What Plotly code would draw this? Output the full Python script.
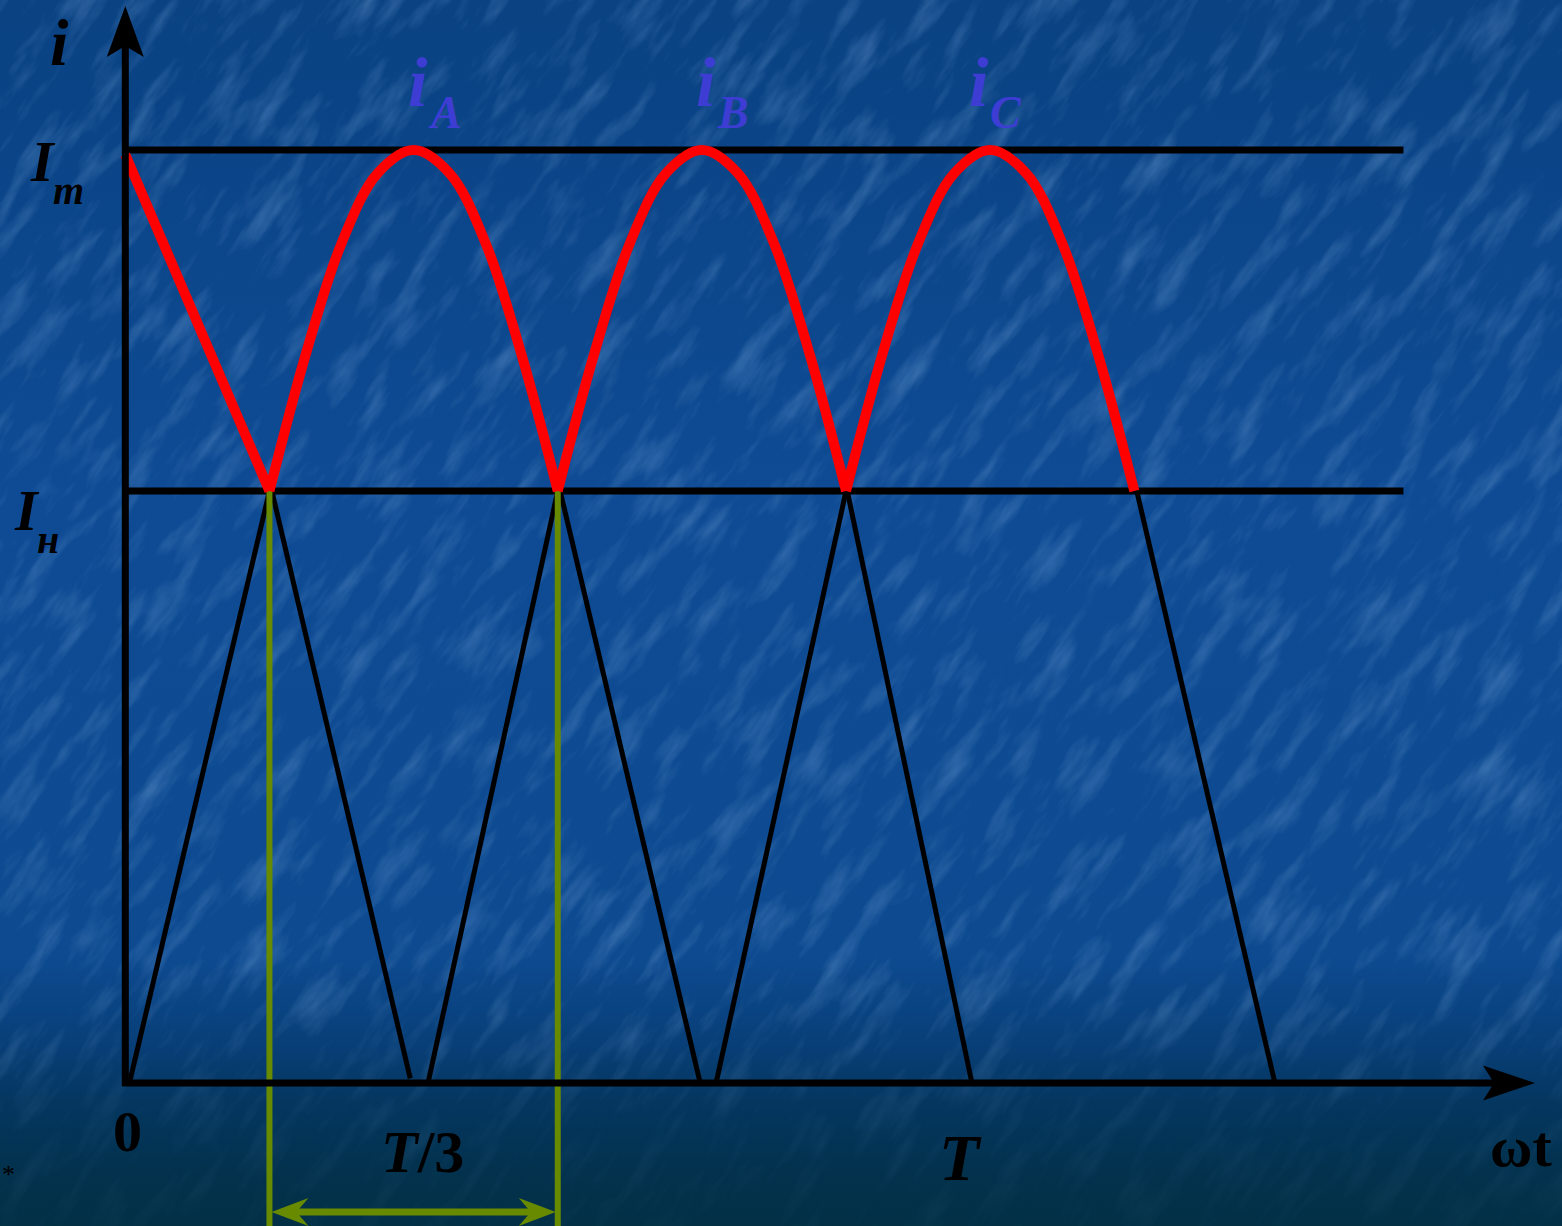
import base64
import plotly.graph_objects as go

# ---------------- data (ωt in electrical degrees, current in units of Im) ----------------
T_DEG = 360                 # period T
IM = 1.0                    # I_m level
IN = 0.6345                 # I_н level
LEVEL_END = 532             # where the two level lines stop

# red resulting current: first straight falling part, then the three phase tops
red_start_x = [0, 60]
red_start_y = [0.995, 0.6345]
arc_a_x = [60, 75, 90, 105, 120, 135, 150, 165, 180]
arc_a_y = [0.6345, 0.78, 0.90, 0.975, 1.0, 0.975, 0.90, 0.78, 0.6345]
arc_b_x = [180, 195, 210, 225, 240, 255, 270, 285, 300]
arc_b_y = [0.6345, 0.78, 0.90, 0.975, 1.0, 0.975, 0.90, 0.78, 0.6345]
arc_c_x = [300, 315, 330, 345, 360, 375, 390, 405, 420]
arc_c_y = [0.6345, 0.78, 0.90, 0.975, 1.0, 0.975, 0.90, 0.78, 0.6345]

# black phase-current flanks below I_н
black_x = [2, 60, None, 61, 118.6, None, 126, 180, None, 181, 239.2, None,
           245.9, 300, None, 300.5, 352.4, None, 421, 478.5]
black_y = [0.003, 0.6345, None, 0.6345, 0.005, None, 0, 0.6345, None, 0.6345, 0.001, None,
           0, 0.6345, None, 0.6345, 0, None, 0.6345, 0]

# commutation interval T/3 marked in green
green_x = [60, 180]

labels_phase = ["A", "B", "C"]
phase_peaks = [120, 240, 360]

# ---------------- layout constants (pixels) ----------------
W, H = 1562, 1226
X0_PX, PX_PER_DEG = 125.3, 2.4025
Y0_PX, PX_PER_UNIT = 1083.0, 933.0


def to_x(px):
    return (px - X0_PX) / PX_PER_DEG


def to_y(py):
    return (Y0_PX - py) / PX_PER_UNIT


def dx(px):
    return px / PX_PER_DEG


def dy(px):
    return px / PX_PER_UNIT


x_range = [to_x(0), to_x(W)]
y_range = [to_y(H), to_y(0)]

X_TIP = to_x(1535)
Y_TIP = to_y(6)
ARROW_Y = to_y(1212)


def arrow_path(tx, ty, direction, L, Hw, N):
    if direction == "right":
        pts = [(tx, ty), (tx - dx(L), ty + dy(Hw)), (tx - dx(L - N), ty), (tx - dx(L), ty - dy(Hw))]
    elif direction == "left":
        pts = [(tx, ty), (tx + dx(L), ty + dy(Hw)), (tx + dx(L - N), ty), (tx + dx(L), ty - dy(Hw))]
    else:  # up
        pts = [(tx, ty), (tx + dx(Hw), ty - dy(L)), (tx, ty - dy(L - N)), (tx - dx(Hw), ty - dy(L))]
    return "M " + " L ".join(f"{x:.4f},{y:.5f}" for x, y in pts) + " Z"


# ---------------- background (gradient + streaky texture) ----------------
svg = f"""<svg xmlns='http://www.w3.org/2000/svg' width='{W}' height='{H}' viewBox='0 0 {W} {H}'>
<defs>
<linearGradient id='g' x1='0' y1='0' x2='0' y2='1'>
<stop offset='0' stop-color='#0a4282'/>
<stop offset='0.4' stop-color='#0e4b94'/>
<stop offset='0.78' stop-color='#0d4a90'/>
<stop offset='0.85' stop-color='#083f78'/>
<stop offset='0.9' stop-color='#04365f'/>
<stop offset='0.95' stop-color='#03324f'/>
<stop offset='1' stop-color='#033045'/>
</linearGradient>
<linearGradient id='fade' x1='0' y1='0' x2='0' y2='1'>
<stop offset='0' stop-color='white' stop-opacity='1'/>
<stop offset='0.8' stop-color='white' stop-opacity='1'/>
<stop offset='0.92' stop-color='white' stop-opacity='0.3'/>
<stop offset='1' stop-color='white' stop-opacity='0.15'/>
</linearGradient>
<mask id='m'><rect width='{W}' height='{H}' fill='url(#fade)'/></mask>
<filter id='t' x='0' y='0' width='100%' height='100%'>
<feTurbulence type='fractalNoise' baseFrequency='0.05 0.013' numOctaves='4' seed='7'/>
<feColorMatrix values='0 0 0 0 0.28  0 0 0 0 0.50  0 0 0 0 0.82  0 0 0 2.0 -0.95'/>
</filter>
</defs>
<rect width='{W}' height='{H}' fill='url(#g)'/>
<g mask='url(#m)'>
<g transform='rotate(35 {W/2} {H/2})' opacity='0.32'>
<rect x='-700' y='-700' width='{W+1400}' height='{H+1400}' filter='url(#t)'/>
</g>
</g>
</svg>"""
bg_uri = "data:image/svg+xml;base64," + base64.b64encode(svg.encode()).decode()

# ---------------- figure ----------------
fig = go.Figure()

BLACK = "#000000"
RED = "#ff0000"
GREEN = "#678a00"
BLUE_TXT = "#3d3dd4"

# level lines I_m and I_н
fig.add_trace(go.Scatter(x=[0, LEVEL_END], y=[IM, IM], mode="lines",
                         line=dict(color=BLACK, width=7), hoverinfo="skip"))
fig.add_trace(go.Scatter(x=[0, LEVEL_END], y=[IN, IN], mode="lines",
                         line=dict(color=BLACK, width=7), hoverinfo="skip"))
# black flanks
fig.add_trace(go.Scatter(x=black_x, y=black_y, mode="lines",
                         line=dict(color=BLACK, width=5), hoverinfo="skip"))
# green verticals
for gx in green_x:
    fig.add_trace(go.Scatter(x=[gx, gx], y=[IN, y_range[0]], mode="lines",
                             line=dict(color=GREEN, width=6), hoverinfo="skip", cliponaxis=False))
# green dimension line (shaft)
fig.add_trace(go.Scatter(x=[green_x[0] + dx(20), green_x[1] - dx(20)], y=[ARROW_Y, ARROW_Y],
                         mode="lines", line=dict(color=GREEN, width=7), hoverinfo="skip"))
# red resulting current
fig.add_trace(go.Scatter(x=red_start_x, y=red_start_y, mode="lines",
                         line=dict(color=RED, width=10), hoverinfo="skip"))
for ax_, ay_ in [(arc_a_x, arc_a_y), (arc_b_x, arc_b_y), (arc_c_x, arc_c_y)]:
    fig.add_trace(go.Scatter(x=ax_, y=ay_, mode="lines",
                             line=dict(color=RED, width=10, shape="spline", smoothing=1.0),
                             hoverinfo="skip"))
# axes
fig.add_trace(go.Scatter(x=[0, 0], y=[0 - dy(3), Y_TIP - dy(40)], mode="lines",
                         line=dict(color=BLACK, width=7), hoverinfo="skip"))
fig.add_trace(go.Scatter(x=[0 - dx(3), X_TIP - dx(40)], y=[0, 0], mode="lines",
                         line=dict(color=BLACK, width=7), hoverinfo="skip"))

shapes = [
    dict(type="path", path=arrow_path(0, Y_TIP, "up", 51, 18.5, 11), fillcolor=BLACK,
         line=dict(width=0), xref="x", yref="y"),
    dict(type="path", path=arrow_path(X_TIP, 0, "right", 52, 17.5, 11), fillcolor=BLACK,
         line=dict(width=0), xref="x", yref="y"),
    dict(type="path", path=arrow_path(green_x[0] + dx(2), ARROW_Y, "left", 37, 14, 12),
         fillcolor=GREEN, line=dict(width=0), xref="x", yref="y"),
    dict(type="path", path=arrow_path(green_x[1] - dx(2), ARROW_Y, "right", 37, 14, 12),
         fillcolor=GREEN, line=dict(width=0), xref="x", yref="y"),
]

FONT = "Liberation Serif, Times New Roman, serif"


def label(text, px, py, size, color=BLACK):
    return dict(text=text, x=to_x(px), y=to_y(py), xref="x", yref="y", showarrow=False,
                xanchor="center", yanchor="middle",
                font=dict(family=FONT, size=size, color=color))


annotations = [
    label("<b><i>i</i></b>", 59, 42, 66),
    label("<b><i>I</i></b>", 43, 161, 58),
    label("<b><i>m</i></b>", 68, 190, 40),
    label("<b><i>I</i></b>", 27, 510, 58),
    label("<b><i>н</i></b>", 48, 539, 40),
    label("<b>0</b>", 127, 1131, 58),
    label("<b><i>T</i>/3</b>", 422, 1152, 60),
    label("<b><i>T</i></b>", 960, 1157, 66),
    label("<b>ωt</b>", 1521, 1146, 58),
    label("*", 8, 1174, 26),
]
phase_i_px = [418, 706, 979]
for name, peak, ipx in zip(labels_phase, phase_peaks, phase_i_px):
    annotations.append(label("<b><i>i</i></b>", ipx, 82, 70, BLUE_TXT))
    annotations.append(label(f"<b><i>{name}</i></b>", ipx + 27, 112, 46, BLUE_TXT))

fig.update_layout(
    width=W, height=H,
    margin=dict(l=0, r=0, t=0, b=0, pad=0),
    paper_bgcolor="#0d4a90",
    plot_bgcolor="rgba(0,0,0,0)",
    showlegend=False,
    xaxis=dict(range=x_range, visible=False, fixedrange=True),
    yaxis=dict(range=y_range, visible=False, fixedrange=True),
    images=[dict(source=bg_uri, xref="paper", yref="paper", x=0, y=1, sizex=1, sizey=1,
                 xanchor="left", yanchor="top", sizing="stretch", layer="below")],
    shapes=shapes,
    annotations=annotations,
)

fig.write_html("out.html", config={"displayModeBar": False},
               post_script="document.body.style.margin='0';document.body.style.overflow='hidden';")
